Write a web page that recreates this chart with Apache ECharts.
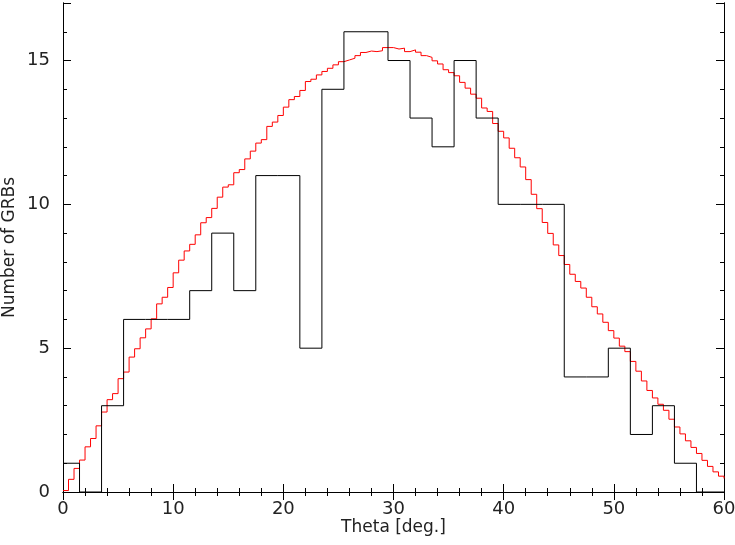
<!DOCTYPE html>
<html>
<head>
<meta charset="utf-8">
<script src="https://cdn.jsdelivr.net/npm/echarts@6/dist/echarts.min.js"></script>
<style>
    html, body {margin: 0; padding: 0; background: #fff;}
    #main {width: 735px; height: 545px;}
</style>
</head>
<body>
<div id="main"></div>
<script>
//直方图 bin 边界 (deg) 和计数
var histEdges = [0, 1.5, 3.5, 5.5, 7.5, 9.5, 11.5, 13.5, 15.5, 17.5, 19.5, 21.5, 23.5, 25.5, 27.5, 29.5,
    31.5, 33.5, 35.5, 37.5, 39.5, 41.5, 43.5, 45.5, 47.5, 49.5, 51.5, 53.5, 55.5, 57.5, 60];
var histCounts = [1, 0, 3, 6, 6, 6, 7, 9, 7, 11, 11, 5, 14, 16, 16, 15, 13, 12, 15, 13, 10, 10, 10, 4, 4, 5, 2, 3, 1, 0];

//模型曲线, 每 0.5 deg 一个值
var modelStep = 0.5;
var modelValues = [
    0.05, 0.44, 0.82, 1.11, 1.57, 1.86, 2.30, 2.78, 3.21, 3.42,
    3.94, 4.17, 4.69, 4.98, 5.36, 5.67, 6.02, 6.54, 6.77, 7.11,
    7.62, 8.06, 8.38, 8.61, 8.94, 9.36, 9.54, 9.86, 10.25, 10.60,
    10.68, 11.10, 11.21, 11.58, 11.85, 12.13, 12.25, 12.71, 12.86, 13.09,
    13.38, 13.64, 13.75, 13.96, 14.27, 14.35, 14.50, 14.62, 14.73, 14.85,
    14.96, 15.02, 15.08, 15.17, 15.28, 15.33, 15.31, 15.34, 15.45, 15.45,
    15.40, 15.43, 15.31, 15.37, 15.29, 15.17, 15.11, 14.99, 14.88, 14.68,
    14.58, 14.47, 14.24, 14.04, 13.83, 13.69, 13.35, 13.23, 12.81, 12.54,
    12.31, 11.95, 11.62, 11.30, 10.86, 10.35, 9.85, 9.37, 8.99, 8.59,
    8.22, 7.91, 7.57, 7.32, 7.09, 6.77, 6.44, 6.19, 5.90, 5.61,
    5.35, 5.07, 4.88, 4.54, 4.20, 3.86, 3.53, 3.27, 3.05, 2.84,
    2.53, 2.26, 2.02, 1.78, 1.55, 1.34, 1.10, 0.89, 0.70, 0.55,
    0.47
];

var xTicks = [0, 10, 20, 30, 40, 50, 60];
var yTicks = [0, 5, 10, 15];

//组装数据
var histData = [];
for (let i = 0; i < histCounts.length; i++) {
    histData.push([histEdges[i], histCounts[i]]);
}
histData.push([histEdges[histEdges.length - 1], histCounts[histCounts.length - 1]]);

var modelData = [];
for (let i = 0; i < modelValues.length; i++) {
    modelData.push([i * modelStep, modelValues[i]]);
}

var font = 'DejaVu Sans';
var lineColor = '#000';

function xAxisOf(pos, withLabel) {
    return {
        type: 'value',
        position: pos,
        min: xTicks[0],
        max: xTicks[xTicks.length - 1],
        interval: 10,
        name: withLabel ? 'Theta [deg.]' : '',
        nameLocation: 'middle',
        nameGap: 27,
        nameMoveOverlap: false,
        nameTextStyle: {fontFamily: font, fontSize: 17, color: '#222', verticalAlign: 'top'},
        axisLine: {show: true, lineStyle: {color: lineColor, width: 1}},
        axisTick: {show: true, inside: true, length: 8, lineStyle: {color: lineColor}},
        minorTick: {show: true, splitNumber: 5, length: 4, lineStyle: {color: lineColor}},
        axisLabel: {show: withLabel, margin: 8, fontFamily: font, fontSize: 18, color: '#222'},
        splitLine: {show: false}
    };
}

function yAxisOf(pos, interval, tickLen, withLabel) {
    return {
        type: 'value',
        position: pos,
        min: 0,
        max: 17,
        interval: interval,
        name: withLabel ? 'Number of GRBs' : '',
        nameLocation: 'middle',
        nameGap: 45,
        nameMoveOverlap: false,
        nameTextStyle: {fontFamily: font, fontSize: 17, color: '#222'},
        axisLine: {show: true, lineStyle: {color: lineColor, width: 1}},
        axisTick: {show: true, inside: true, length: tickLen, lineStyle: {color: lineColor}},
        axisLabel: {
            show: withLabel, margin: 13, fontFamily: font, fontSize: 18, color: '#222',
            formatter: function (v) {
                return yTicks.indexOf(v) >= 0 ? String(v) : '';
            }
        },
        splitLine: {show: false}
    };
}

var chart = document.getElementById('main');
var echart = echarts.init(chart, null, {renderer: 'canvas'});

var option = {
    animation: false,
    backgroundColor: '#fff',
    grid: {left: 63, right: 11, top: 3, bottom: 53, containLabel: false, outerBoundsMode: 'none'},
    xAxis: [xAxisOf('bottom', true), xAxisOf('top', false)],
    yAxis: [
        yAxisOf('left', 5, 8, true),
        yAxisOf('left', 1, 4, false),
        yAxisOf('right', 5, 8, false),
        yAxisOf('right', 1, 4, false)
    ],
    series: [
        {
            name: 'model',
            type: 'line',
            step: 'end',
            xAxisIndex: 0,
            yAxisIndex: 0,
            showSymbol: false,
            data: modelData,
            lineStyle: {color: '#ff0000', width: 1},
            z: 2
        },
        {
            name: 'observed',
            type: 'line',
            step: 'end',
            xAxisIndex: 0,
            yAxisIndex: 0,
            showSymbol: false,
            data: histData,
            lineStyle: {color: '#000', width: 1},
            z: 3
        }
    ]
};
echart.setOption(option);
</script>
</body>
</html>
